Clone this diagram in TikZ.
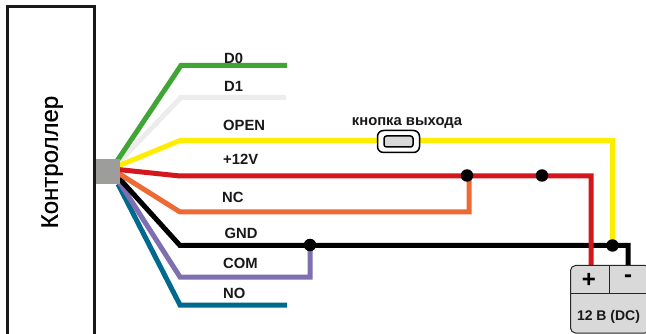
\documentclass[tikz,border=0pt]{standalone}
\usepackage{fontspec}
\setmainfont{Liberation Sans}
\newfontfamily\ctrlfont[FakeBold=0.5]{Liberation Sans}
\definecolor{wgreen}{HTML}{3FA535}
\definecolor{wwhite}{HTML}{ECECEC}
\definecolor{wyellow}{HTML}{FFED00}
\definecolor{wred}{HTML}{D2171E}
\definecolor{worange}{HTML}{EE6A35}
\definecolor{wpurple}{HTML}{7F6EB0}
\definecolor{wblue}{HTML}{006A8E}
\definecolor{boxgray}{HTML}{D9D9D9}
\definecolor{connector}{HTML}{9D9D9C}
\tikzset{
  wire/.style={line width=5pt,line join=miter},
  lbl/.style={font=\fontsize{14.8}{15}\selectfont\bfseries,inner sep=0pt,anchor=base west,text=black!90},
  joint/.style={circle,fill=black,inner sep=0pt,minimum size=12.5pt},
  psu/.style={draw=black!85,line width=1pt}
}
\begin{document}
\begin{tikzpicture}[x=1pt,y=-1pt]
\useasboundingbox (0,0) rectangle (646,334);
\fill[white] (0,0) rectangle (646,334);
% controller
\draw[line width=3pt,black!90] (94,340) -- (94,7) -- (7,7) -- (7,340);
\node[rotate=90,font=\fontsize{24}{24}\ctrlfont] (ctrl) at (52,162) {Контроллер};
% wire corners
\coordinate (g0) at (117,161); \coordinate (g1) at (181,65.5); \coordinate (g2) at (287,65.5);
\coordinate (w0) at (118,163); \coordinate (w1) at (181,97.5); \coordinate (w2) at (286,97.5);
\coordinate (y0) at (118,166); \coordinate (y1) at (180,140.5); \coordinate (y2) at (612.5,140.5); \coordinate (y3) at (612.5,245);
\coordinate (r0) at (118,169.5); \coordinate (r1) at (180,176); \coordinate (r2) at (591,176); \coordinate (r3) at (591,266);
\coordinate (o0) at (118,173); \coordinate (o1) at (180,212); \coordinate (o2) at (469,212); \coordinate (o3) at (469,176);
\coordinate (b0) at (118,177); \coordinate (b1) at (180,245.5); \coordinate (b2) at (628,245.5); \coordinate (b3) at (628,266);
\coordinate (p0) at (118,180); \coordinate (p1) at (180,277); \coordinate (p2) at (310,277); \coordinate (p3) at (310,245.5);
\coordinate (n0) at (118,184); \coordinate (n1) at (180,305); \coordinate (n2) at (287,305);
\draw[wire,wwhite] (w0) -- (w1) -- (w2);
\draw[wire,wgreen] (g0) -- (g1) -- (g2);
\draw[wire,wyellow] (y0) -- (y1) -- (y2) -- (y3);
\draw[wire,wblue] (n0) -- (n1) -- (n2);
\draw[wire,wpurple] (p0) -- (p1) -- (p2) -- (p3);
\draw[wire,black] (b0) -- (b1) -- (b2) -- (b3);
\draw[wire,worange] (o0) -- (o1) -- (o2) -- (o3);
\draw[wire,wred] (r0) -- (r1) -- (r2) -- (r3);
% grey connector
\node[fill=connector,minimum width=24pt,minimum height=25pt,inner sep=0pt] (conn) at (107.5,171.5) {};
% joints
\node[joint] (j1) at (467,175.5) {};
\node[joint] (j2) at (542,175.5) {};
\node[joint] (j3) at (310,245) {};
\node[joint] (j4) at (612.5,245.5) {};
% labels
\node[lbl] (l0) at (224,64) {D0};
\node[lbl] (l1) at (224,91.5) {D1};
\node[lbl] (l2) at (223,130.5) {OPEN};
\node[lbl] (l3) at (223,164.5) {+12V};
\node[lbl] (l4) at (222,203) {NC};
\node[lbl] (l5) at (224.5,238.5) {GND};
\node[lbl] (l6) at (223,268.5) {COM};
\node[lbl] (l7) at (223,298.5) {NO};
% button
\node[lbl,anchor=base] (btnl) at (407,125.5) {кнопка выхода};
\node[draw=black,line width=1.5pt,fill=white,rounded corners=6pt,minimum width=42pt,minimum height=22pt,inner sep=0pt] (btn) at (398.5,141.5) {};
\node[draw=black,line width=1.5pt,fill=boxgray,rounded corners=2.5pt,minimum width=29pt,minimum height=11pt,inner sep=0pt] (btni) at (398.5,141.5) {};
% PSU
\draw[psu,fill=boxgray,rounded corners=5pt] (570.5,265.5) -- (570.5,333) -- (650,333) -- (650,265.5) -- cycle;
\draw[psu] (570.5,293) -- (646,293);
\draw[psu] (609,265.5) -- (609,293);
\node[font=\fontsize{24}{24}\selectfont\bfseries,inner sep=0pt] (plus) at (589,280) {+};
\node[font=\fontsize{24}{24}\selectfont\bfseries,inner sep=0pt] (minus) at (628,278.5) {-};
\node[lbl,anchor=base,font=\fontsize{14}{15}\selectfont\bfseries] (volt) at (608.5,320.5) {12 В (DC)};
\end{tikzpicture}
\end{document}
